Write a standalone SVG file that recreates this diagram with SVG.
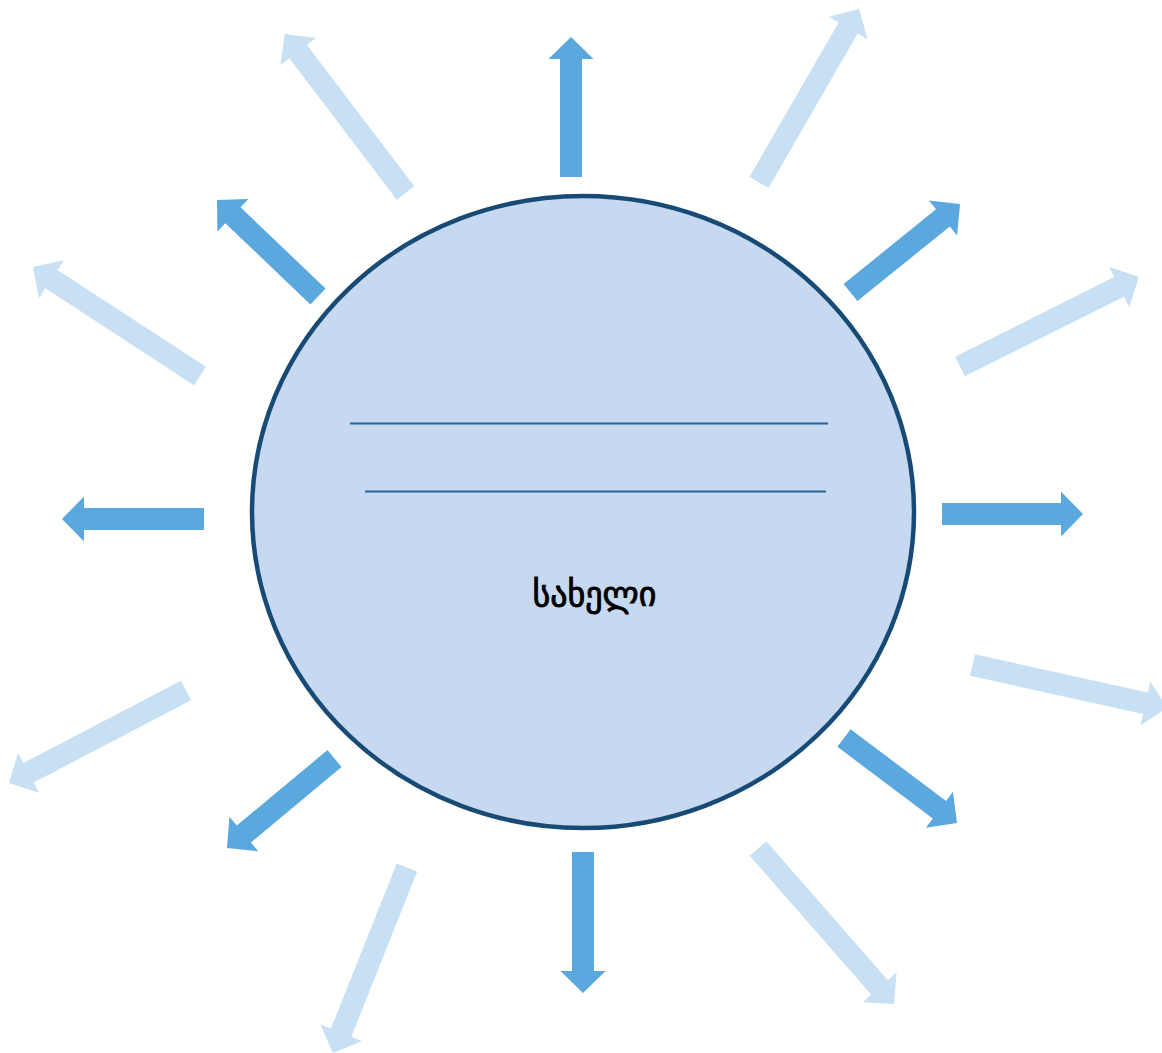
<svg xmlns="http://www.w3.org/2000/svg" width="1162" height="1053" viewBox="0 0 1162 1053">
<style>
.dark{fill:#5BA8DE}
.light{fill:#C8E0F4}
.body{fill:#C6D9F0;stroke:#174B76;stroke-width:4.5}
.rule{stroke:#2A6399;stroke-width:2}
.label{font-family:"DejaVu Sans",sans-serif;font-size:34px;font-weight:normal;fill:#000;stroke:#000;stroke-width:0.9;text-anchor:middle}
</style>
<g id="connectors">
<path class="dark" transform="translate(571,177) rotate(-90)" d="M0,-11H118V-22.5L140,0L118,22.5V11H0Z"/>
<path class="dark" transform="translate(942,514) rotate(0)" d="M0,-11H119V-22.5L141,0L119,22.5V11H0Z"/>
<path class="dark" transform="translate(583,852) rotate(90)" d="M0,-11H119V-22.5L141,0L119,22.5V11H0Z"/>
<path class="dark" transform="translate(204,519) rotate(180)" d="M0,-11H120V-22.5L142,0L120,22.5V11H0Z"/>
<path class="dark" transform="translate(318,296.5) rotate(-136.3)" d="M0,-11H117.7V-22.5L139.7,0L117.7,22.5V11H0Z"/>
<path class="dark" transform="translate(850.5,292.5) rotate(-38.9)" d="M0,-11H118.8V-22.5L140.8,0L118.8,22.5V11H0Z"/>
<path class="dark" transform="translate(844,738) rotate(36.95)" d="M0,-11H119.4V-22.5L141.4,0L119.4,22.5V11H0Z"/>
<path class="dark" transform="translate(334.5,758.5) rotate(140.2)" d="M0,-11H118V-22.5L140,0L118,22.5V11H0Z"/>
<path class="light" transform="translate(405.5,193) rotate(-127.2)" d="M0,-11H177.5V-22.5L199.5,0L177.5,22.5V11H0Z"/>
<path class="light" transform="translate(759,182.5) rotate(-60)" d="M0,-11H178.3V-22.5L200.3,0L178.3,22.5V11H0Z"/>
<path class="light" transform="translate(960,366.5) rotate(-26.6)" d="M0,-11H178V-22.5L200,0L178,22.5V11H0Z"/>
<path class="light" transform="translate(200,376) rotate(-146.9)" d="M0,-11H177.4V-22.5L199.4,0L177.4,22.5V11H0Z"/>
<path class="light" transform="translate(186,690.5) rotate(152.4)" d="M0,-11H177.7V-22.5L199.7,0L177.7,22.5V11H0Z"/>
<path class="light" transform="translate(972.5,665) rotate(12.5)" d="M0,-11H177.2V-22.5L199.2,0L177.2,22.5V11H0Z"/>
<path class="light" transform="translate(758,848.5) rotate(48.8)" d="M0,-11H184.6V-22.5L206.6,0L184.6,22.5V11H0Z"/>
<path class="light" transform="translate(407,867.5) rotate(111.75)" d="M0,-11H177.7V-22.5L199.7,0L177.7,22.5V11H0Z"/>
</g>
<g id="node-main">
<ellipse class="body" cx="583" cy="512" rx="331" ry="316"/>
<line class="rule" x1="350" y1="423.5" x2="828" y2="423.5"/>
<line class="rule" x1="365" y1="491.5" x2="826" y2="491.5"/>
<text class="label" x="594.5" y="606">სახელი</text>
</g>
</svg>
